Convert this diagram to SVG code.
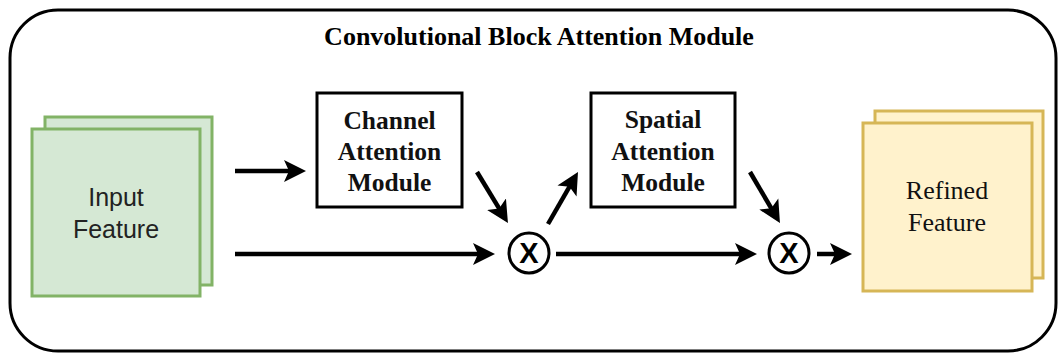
<svg xmlns="http://www.w3.org/2000/svg" width="1060" height="354" viewBox="0 0 1060 354">
<style>
.frame{fill:#ffffff;stroke:#000000;stroke-width:3}
.box{fill:#ffffff;stroke:#000000;stroke-width:3}
.green{fill:#d5e8d4;stroke:#82b366;stroke-width:3}
.yellow{fill:#fff2cc;stroke:#d6b656;stroke-width:3}
.op{fill:#ffffff;stroke:#000000;stroke-width:3}
.arrow{stroke:#000000;stroke-width:4.5;fill:none;marker-end:url(#head)}
.title{font-family:"Liberation Serif","Times New Roman",serif;font-weight:bold;font-size:26px;fill:#000;text-anchor:middle}
.btxt{font-family:"Liberation Serif","Times New Roman",serif;font-weight:bold;font-size:25.5px;fill:#111;text-anchor:middle}
.sans{font-family:"Liberation Sans",Arial,sans-serif;font-size:25px;fill:#222;text-anchor:middle}
.serif{font-family:"Liberation Serif","Times New Roman",serif;font-size:26px;fill:#111;text-anchor:middle}
.x{font-family:"Liberation Sans",Arial,sans-serif;font-weight:bold;font-size:29px;fill:#000;text-anchor:middle}
</style>
<defs>
<marker id="head" markerUnits="userSpaceOnUse" markerWidth="24" markerHeight="24" refX="14" refY="11" orient="auto" viewBox="0 0 24 22">
<path d="M0,0 L22,11 L0,22 L5,11 z" fill="#000"/>
</marker>
</defs>
<g id="frame">
<rect class="frame" x="10" y="10" width="1046" height="341" rx="48" ry="48"/>
<text class="title" x="539" y="45">Convolutional Block Attention Module</text>
</g>
<g id="input-feature">
<rect class="green" x="45" y="117" width="167" height="168"/>
<rect class="green" x="32" y="129" width="168" height="167"/>
<text class="sans" x="116" y="206">Input</text>
<text class="sans" x="116" y="238">Feature</text>
</g>
<g id="channel-attention">
<rect class="box" x="317" y="93" width="145" height="114"/>
<text class="btxt" x="389.5" y="129">Channel</text>
<text class="btxt" x="389.5" y="160">Attention</text>
<text class="btxt" x="389.5" y="191">Module</text>
</g>
<g id="spatial-attention">
<rect class="box" x="591" y="93" width="144" height="114"/>
<text class="btxt" x="663" y="128">Spatial</text>
<text class="btxt" x="663" y="160">Attention</text>
<text class="btxt" x="663" y="191">Module</text>
</g>
<g id="multiply-1">
<circle class="op" cx="529" cy="253" r="20"/>
<text class="x" x="529" y="263">X</text>
</g>
<g id="multiply-2">
<circle class="op" cx="789" cy="253" r="20"/>
<text class="x" x="789" y="263">X</text>
</g>
<g id="refined-feature">
<rect class="yellow" x="875" y="111" width="168" height="167"/>
<rect class="yellow" x="863" y="123" width="169" height="168"/>
<text class="serif" x="947" y="199">Refined</text>
<text class="serif" x="947" y="231">Feature</text>
</g>
<g id="connectors">
<line class="arrow" x1="235" y1="171" x2="298" y2="171"/>
<line class="arrow" x1="235" y1="254" x2="487" y2="254"/>
<line class="arrow" x1="556" y1="254" x2="749" y2="254"/>
<line class="arrow" x1="817" y1="254" x2="844" y2="254"/>
<line class="arrow" x1="477" y1="172" x2="503.8" y2="216.2"/>
<line class="arrow" x1="548" y1="224" x2="574" y2="178.9"/>
<line class="arrow" x1="750" y1="172" x2="775.9" y2="216.1"/>
</g>
</svg>
